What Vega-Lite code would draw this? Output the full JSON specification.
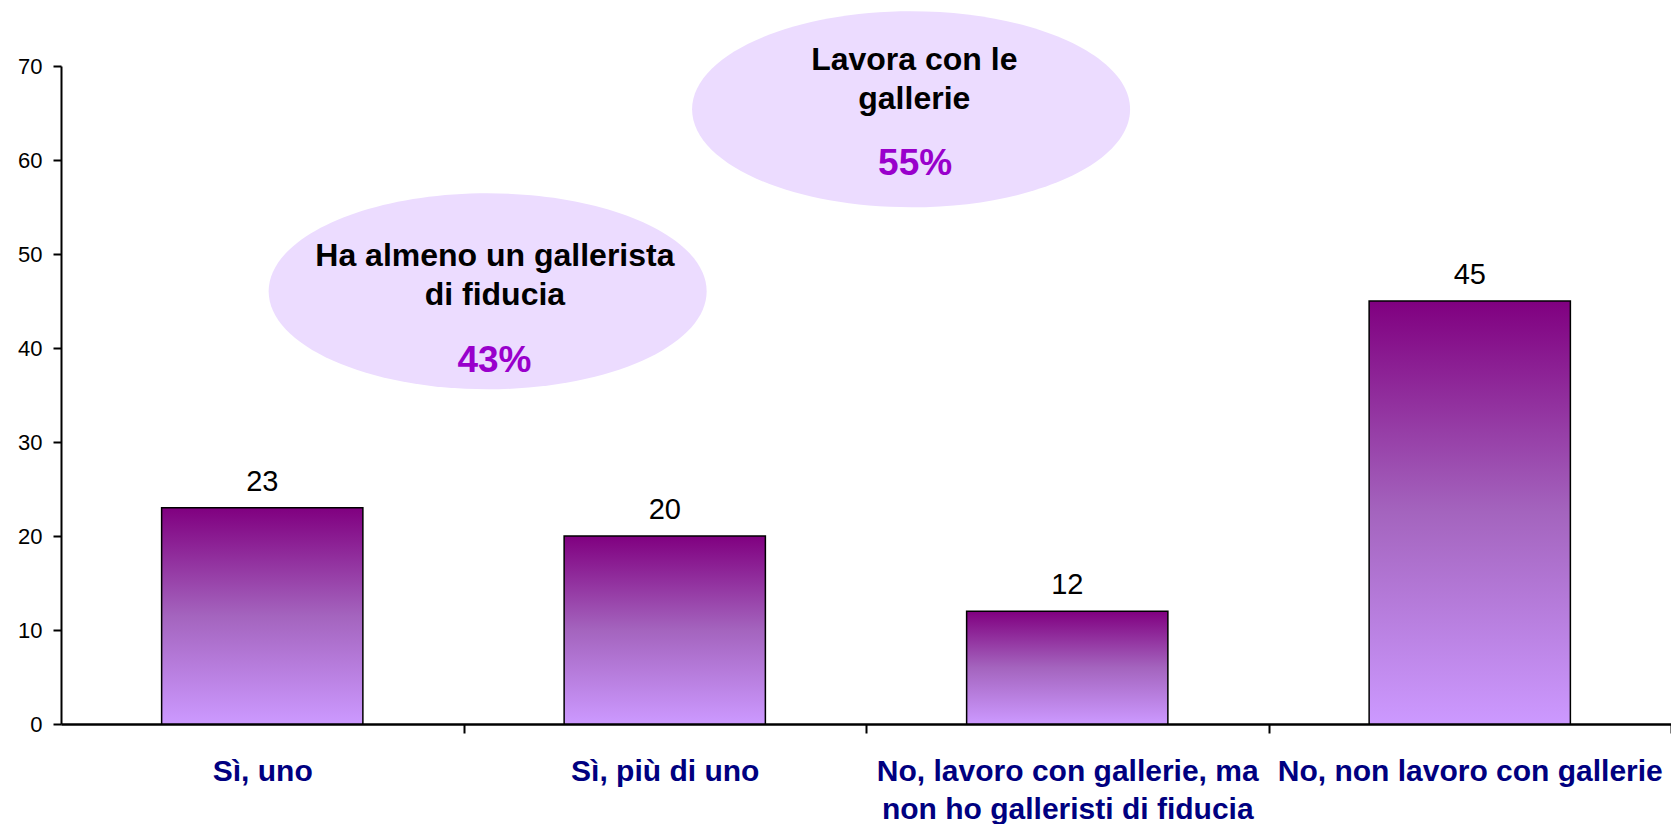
{
  "$schema": "https://vega.github.io/schema/vega-lite/v6.json",
  "autosize": {"type": "none"},
  "width": 1610,
  "height": 658,
  "padding": {"left": 61, "top": 66, "right": 0, "bottom": 100},
  "background": "white",
  "config": {
    "view": {"stroke": null},
    "font": "Liberation Sans, Arial, sans-serif"
  },
  "datasets": {
    "bars": [
      {"cat": "Sì, uno", "value": 23},
      {"cat": "Sì, più di uno", "value": 20},
      {"cat": "No, lavoro con gallerie, ma|non ho galleristi di fiducia", "value": 12},
      {"cat": "No, non lavoro con gallerie", "value": 45}
    ],
    "bubbles": [
      {"title": ["Ha almeno un gallerista", "di fiducia"], "pct": "43%", "cx": 1.06, "cy": 46.03, "tx": 1.078, "ty": 48.72, "px": 1.077, "py": 37.48},
      {"title": ["Lavora con le", "gallerie"], "pct": "55%", "cx": 2.112, "cy": 65.39, "tx": 2.12, "ty": 69.57, "px": 2.122, "py": 58.4}
    ]
  },
  "layer": [
    {
      "data": {"name": "bubbles"},
      "layer": [
        {
          "mark": {
            "type": "point",
            "shape": "M -1 0 A 1 0.4475 0 1 1 1 0 A 1 0.4475 0 1 1 -1 0 Z",
            "size": 191844,
            "filled": true,
            "fill": "#ECDCFF",
            "opacity": 1,
            "strokeWidth": 0
          },
          "encoding": {
            "x": {"field": "cx", "type": "quantitative", "scale": {"domain": [0, 4], "zero": false, "nice": false}, "axis": null},
            "y": {"field": "cy", "type": "quantitative", "scale": {"domain": [0, 70], "nice": false}, "axis": {"title": null}}
          }
        },
        {
          "mark": {
            "type": "text",
            "font": "Liberation Sans, Arial, sans-serif",
            "fontWeight": "bold",
            "fontSize": 32,
            "color": "black",
            "align": "center",
            "baseline": "alphabetic",
            "lineHeight": 38.5
          },
          "encoding": {
            "x": {"field": "tx", "type": "quantitative", "scale": {"domain": [0, 4], "zero": false, "nice": false}, "axis": null},
            "y": {"field": "ty", "type": "quantitative", "scale": {"domain": [0, 70], "nice": false}, "axis": {"title": null}},
            "text": {"field": "title"}
          }
        },
        {
          "mark": {
            "type": "text",
            "font": "Liberation Sans, Arial, sans-serif",
            "fontWeight": "bold",
            "fontSize": 37,
            "color": "#9900CC",
            "align": "center",
            "baseline": "alphabetic"
          },
          "encoding": {
            "x": {"field": "px", "type": "quantitative", "scale": {"domain": [0, 4], "zero": false, "nice": false}, "axis": null},
            "y": {"field": "py", "type": "quantitative", "scale": {"domain": [0, 70], "nice": false}, "axis": {"title": null}},
            "text": {"field": "pct", "type": "nominal"}
          }
        }
      ]
    },
    {
      "data": {"name": "bars"},
      "encoding": {
        "x": {
          "field": "cat",
          "type": "nominal",
          "sort": null,
          "scale": {"paddingInner": 0.5, "paddingOuter": 0.25},
          "axis": {
            "title": null,
            "tickBand": "center",
            "tickOffset": 201.25,
            "labelOffset": -201.25,
            "tickSize": 9,
            "tickWidth": 2,
            "tickColor": "black",
            "domainColor": "black",
            "domainWidth": 2.5,
            "labelAngle": 0,
            "labelPadding": 23,
            "labelFont": "Liberation Sans, Arial, sans-serif",
            "labelFontWeight": "bold",
            "labelFontSize": 30,
            "labelColor": "#000080",
            "labelLimit": 0,
            "labelLineHeight": 38,
            "labelExpr": "split(datum.label, '|')"
          }
        },
        "y": {
          "field": "value",
          "type": "quantitative",
          "scale": {"domain": [0, 70], "nice": false},
          "axis": {
            "title": null,
            "values": [0, 10, 20, 30, 40, 50, 60, 70],
            "grid": false,
            "tickSize": 8,
            "tickWidth": 2,
            "tickColor": "black",
            "domainColor": "black",
            "domainWidth": 2,
            "labelPadding": 11,
            "labelFont": "Liberation Sans, Arial, sans-serif",
            "labelFontSize": 22,
            "labelColor": "black"
          }
        }
      },
      "layer": [
        {
          "mark": {
            "type": "bar",
            "fill": {
              "gradient": "linear",
              "x1": 0, "y1": 0, "x2": 0, "y2": 1,
              "stops": [
                {"offset": 0, "color": "#800080"},
                {"offset": 0.5, "color": "#A464BE"},
                {"offset": 1, "color": "#CC99FF"}
              ]
            },
            "stroke": "black",
            "strokeWidth": 1.5
          }
        },
        {
          "mark": {
            "type": "text",
            "font": "Liberation Sans, Arial, sans-serif",
            "fontSize": 29,
            "color": "black",
            "align": "center",
            "baseline": "alphabetic",
            "dy": -17
          },
          "encoding": {
            "text": {"field": "value", "type": "quantitative"}
          }
        }
      ]
    }
  ],
  "resolve": {"scale": {"x": "independent"}}
}
